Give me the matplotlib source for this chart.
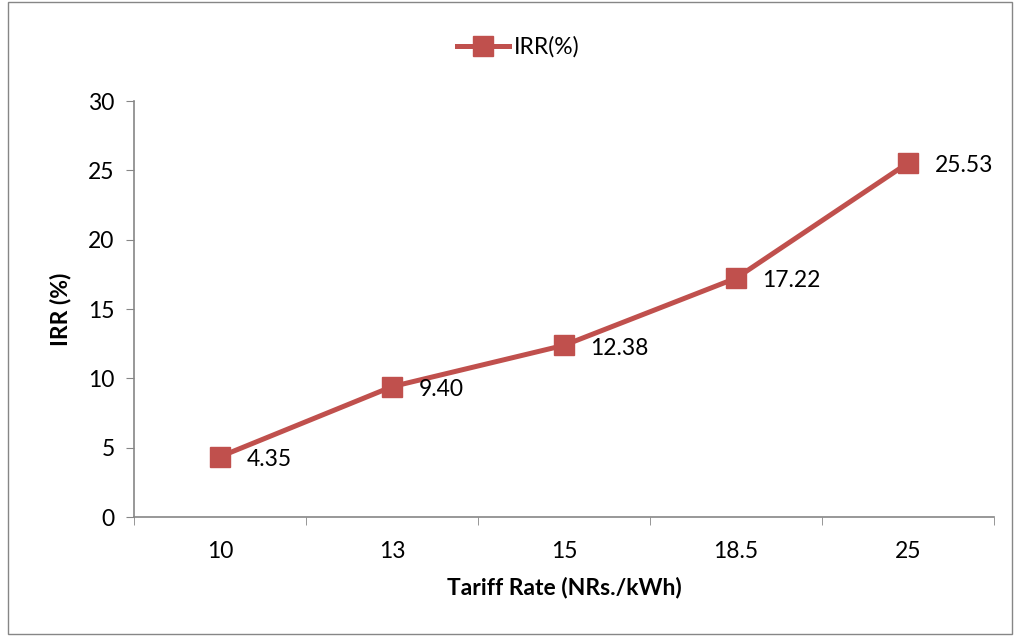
import matplotlib
matplotlib.use("Agg")
import matplotlib.pyplot as plt
from matplotlib.patches import Rectangle

categories = ["10", "13", "15", "18.5", "25"]
irr = [4.35, 9.40, 12.38, 17.22, 25.53]
yticks = [0, 5, 10, 15, 20, 25, 30]

red = "#C0504D"
axis_grey = "#868686"
plt.rcParams["font.family"] = ["Lato", "DejaVu Sans"]
fs = 16.5

fig = plt.figure(figsize=(10.14, 6.36), dpi=100)
ax = fig.add_axes([134 / 1014, 1 - 517 / 636, (994 - 134) / 1014, (517 - 101) / 636])

x = list(range(len(categories)))
line, = ax.plot(x, irr, color=red, lw=3.6, marker="s", markersize=14.5,
                markerfacecolor=red, markeredgecolor=red, label="IRR(%)")

for xi, v in zip(x, irr):
    ax.annotate(f"{v:.2f}", (xi, v), xytext=(19, -2), textcoords="offset points",
                ha="left", va="center", fontsize=fs, color="black")

ax.set_xlim(-0.5, len(categories) - 0.5)
ax.set_ylim(0, 30)
ax.set_yticks(yticks)
ax.set_yticklabels([str(t) for t in yticks], fontsize=fs)
ax.set_xticks(x)
ax.set_xticklabels(categories, fontsize=fs)
ax.set_xticks([i - 0.5 for i in range(len(categories) + 1)], minor=True)
ax.tick_params(axis="x", which="major", length=0, pad=17)
ax.tick_params(axis="x", which="minor", length=6, color=axis_grey, direction="out")
ax.tick_params(axis="y", length=6, color=axis_grey, direction="out", pad=8)

for s in ["top", "right"]:
    ax.spines[s].set_visible(False)
for s in ["left", "bottom"]:
    ax.spines[s].set_color(axis_grey)
    ax.spines[s].set_linewidth(1.2)

ax.set_xlabel("Tariff Rate (NRs./kWh)", fontsize=fs, fontweight="bold", labelpad=11)
ax.set_ylabel("IRR (%)", fontsize=fs, fontweight="bold", labelpad=12)

fig.legend(handles=[line], loc="center", bbox_to_anchor=(518 / 1014, 1 - 47 / 636),
           frameon=False, fontsize=fs, handlelength=2.3, handletextpad=0.2,
           markerscale=0.95)

fig.patches.append(Rectangle((8 / 1014, 2 / 636), 1004 / 1014, 632 / 636,
                             transform=fig.transFigure, fill=False,
                             edgecolor=axis_grey, linewidth=1.0))

fig.savefig("out.png", dpi=100)
